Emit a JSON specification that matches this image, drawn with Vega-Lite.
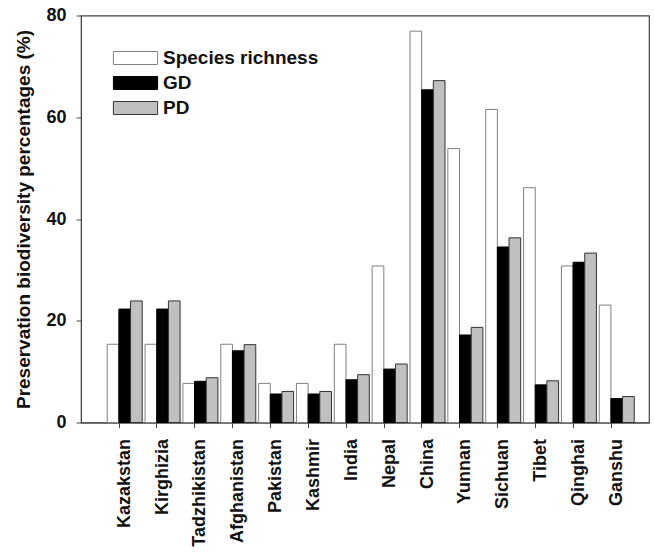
{
  "$schema": "https://vega.github.io/schema/vega-lite/v6.json",
  "autosize": "none",
  "width": 568,
  "height": 407,
  "padding": {"left": 81, "top": 15.5, "right": 5, "bottom": 132},
  "background": "white",
  "config": {
    "font": "Liberation Sans",
    "view": {"stroke": "#444", "strokeWidth": 1.2},
    "axis": {"grid": false, "domainColor": "#444", "tickColor": "#444", "labelColor": "#111", "titleColor": "#111", "labelFont": "Liberation Sans", "titleFont": "Liberation Sans"}
  },
  "data": {
    "values": [
      {"region": "Kazakstan", "metric": "Species richness", "value": 15.38},
      {"region": "Kazakstan", "metric": "GD", "value": 22.3},
      {"region": "Kazakstan", "metric": "PD", "value": 23.9},
      {"region": "Kirghizia", "metric": "Species richness", "value": 15.38},
      {"region": "Kirghizia", "metric": "GD", "value": 22.3},
      {"region": "Kirghizia", "metric": "PD", "value": 23.9},
      {"region": "Tadzhikistan", "metric": "Species richness", "value": 7.69},
      {"region": "Tadzhikistan", "metric": "GD", "value": 8.1},
      {"region": "Tadzhikistan", "metric": "PD", "value": 8.8},
      {"region": "Afghanistan", "metric": "Species richness", "value": 15.38},
      {"region": "Afghanistan", "metric": "GD", "value": 14.1},
      {"region": "Afghanistan", "metric": "PD", "value": 15.3},
      {"region": "Pakistan", "metric": "Species richness", "value": 7.69},
      {"region": "Pakistan", "metric": "GD", "value": 5.6},
      {"region": "Pakistan", "metric": "PD", "value": 6.1},
      {"region": "Kashmir", "metric": "Species richness", "value": 7.69},
      {"region": "Kashmir", "metric": "GD", "value": 5.6},
      {"region": "Kashmir", "metric": "PD", "value": 6.1},
      {"region": "India", "metric": "Species richness", "value": 15.38},
      {"region": "India", "metric": "GD", "value": 8.4},
      {"region": "India", "metric": "PD", "value": 9.4},
      {"region": "Nepal", "metric": "Species richness", "value": 30.77},
      {"region": "Nepal", "metric": "GD", "value": 10.5},
      {"region": "Nepal", "metric": "PD", "value": 11.5},
      {"region": "China", "metric": "Species richness", "value": 76.92},
      {"region": "China", "metric": "GD", "value": 65.4},
      {"region": "China", "metric": "PD", "value": 67.2},
      {"region": "Yunnan", "metric": "Species richness", "value": 53.85},
      {"region": "Yunnan", "metric": "GD", "value": 17.2},
      {"region": "Yunnan", "metric": "PD", "value": 18.7},
      {"region": "Sichuan", "metric": "Species richness", "value": 61.54},
      {"region": "Sichuan", "metric": "GD", "value": 34.5},
      {"region": "Sichuan", "metric": "PD", "value": 36.3},
      {"region": "Tibet", "metric": "Species richness", "value": 46.15},
      {"region": "Tibet", "metric": "GD", "value": 7.4},
      {"region": "Tibet", "metric": "PD", "value": 8.2},
      {"region": "Qinghai", "metric": "Species richness", "value": 30.77},
      {"region": "Qinghai", "metric": "GD", "value": 31.5},
      {"region": "Qinghai", "metric": "PD", "value": 33.3},
      {"region": "Ganshu", "metric": "Species richness", "value": 23.08},
      {"region": "Ganshu", "metric": "GD", "value": 4.7},
      {"region": "Ganshu", "metric": "PD", "value": 5.1}
    ]
  },
  "mark": {"type": "bar", "strokeWidth": 1},
  "encoding": {
    "x": {
      "field": "region",
      "type": "nominal",
      "sort": null,
      "scale": {"paddingInner": 0.075, "paddingOuter": 0.541, "align": 0.64},
      "axis": {
        "title": null,
        "labelAngle": -90,
        "labelFontSize": 18,
        "labelFontWeight": "bold",
        "labelPadding": 11,
        "tickSize": 5,
        "bandPosition": 0.34,
        "domain": true
      }
    },
    "xOffset": {
      "field": "metric",
      "type": "nominal",
      "sort": ["Species richness", "GD", "PD"],
      "scale": {"domain": ["Species richness", "GD", "PD"], "paddingInner": 0, "paddingOuter": 0}
    },
    "y": {
      "field": "value",
      "type": "quantitative",
      "scale": {"domain": [0, 80], "nice": false},
      "axis": {
        "title": "Preservation biodiversity percentages (%)",
        "titleFontSize": 19,
        "titleFontWeight": "bold",
        "titlePadding": 12,
        "values": [0, 20, 40, 60, 80],
        "labelFontSize": 18,
        "labelFontWeight": "bold",
        "labelPadding": 10,
        "tickSize": 5
      }
    },
    "fill": {
      "field": "metric",
      "type": "nominal",
      "scale": {"domain": ["Species richness", "GD", "PD"], "range": ["#ffffff", "#000000", "#c0c0c0"]},
      "legend": {
        "title": null,
        "orient": "none",
        "legendX": 45,
        "legendY": 33,
        "padding": 0,
        "symbolType": "M-3.4,-1H3.4V1H-3.4Z",
        "symbolSize": 169,
        "symbolStrokeWidth": 1,
        "labelFontSize": 19,
        "labelFontWeight": "bold",
        "labelColor": "#111",
        "labelOffset": 18,
        "rowPadding": 5
      }
    },
    "stroke": {
      "field": "metric",
      "type": "nominal",
      "scale": {"domain": ["Species richness", "GD", "PD"], "range": ["#808080", "#000000", "#333333"]},
      "legend": {
        "title": null,
        "orient": "none",
        "legendX": 45,
        "legendY": 33,
        "padding": 0,
        "symbolType": "M-3.4,-1H3.4V1H-3.4Z",
        "symbolSize": 169,
        "symbolStrokeWidth": 1,
        "labelFontSize": 19,
        "labelFontWeight": "bold",
        "labelColor": "#111",
        "labelOffset": 18,
        "rowPadding": 5
      }
    }
  }
}
